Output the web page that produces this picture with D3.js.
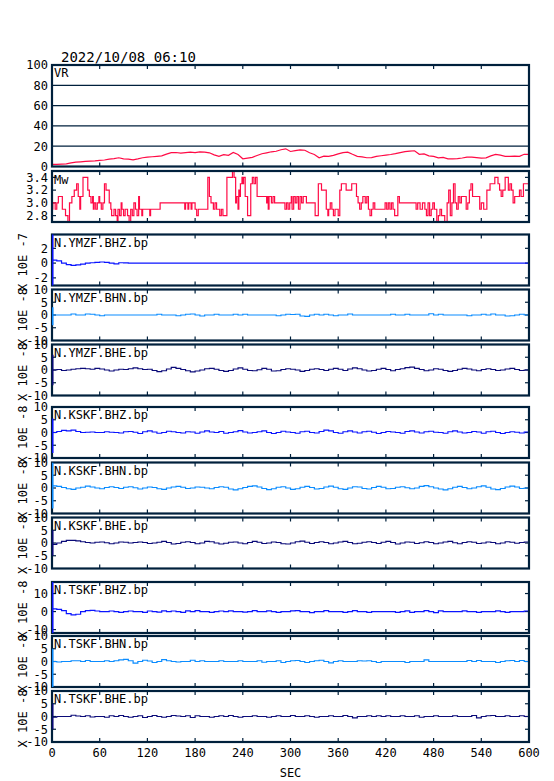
<!DOCTYPE html>
<html>
<head>
<meta charset="utf-8">
<script src="https://d3js.org/d3.v7.min.js"></script>
<style>
  body { margin: 0; background: #fff; }
  text { font-family: "DejaVu Sans Mono", "Liberation Mono", monospace; font-size: 12px; fill: #000; }
</style>
</head>
<body>
<div class="chart"></div>
<script>
(function() {

  // ---- data ----
  const titleText = '2022/10/08 06:10';
  const xTicks = [0, 60, 120, 180, 240, 300, 360, 420, 480, 540, 600];
  const xLabel = 'SEC';

  // variance reduction (%), one value every 6 s
  const vrValues = [2, 2, 2.3, 2.6, 3.5, 4.3, 4.6, 5, 5.3, 5.5, 6, 6.4, 7.3, 7.8, 8.6, 7.6, 7.2, 6.6, 7.5, 8.6,
    9.2, 9.6, 10, 10.5, 12.2, 13.6, 13.8, 13.2, 13.7, 14.2, 13.6, 14.4, 14.2, 13.5, 11.5, 10, 11.6, 11, 13.8, 11.8,
    7.6, 8.3, 9, 10.8, 12.6, 13.5, 14.5, 15, 16.5, 17.4, 14.8, 15.6, 16.4, 16, 13.5, 11.9, 8.6, 10.2, 10, 11,
    12.5, 13.6, 14.2, 12, 10, 9.5, 8.6, 8.8, 10, 10.6, 11.2, 11.8, 12.6, 13.6, 14.6, 15.2, 15.5, 12, 12.4, 10.5,
    10, 8.6, 9, 7.6, 7.6, 7.8, 8.4, 9.3, 9.3, 8.8, 8.3, 8.5, 10.5, 12, 11.2, 10, 10, 10.2, 10, 12, 12];
  const vrTicks = [0, 20, 40, 60, 80, 100];

  // moment magnitude, [time, value] at each change
  const mwSteps = [[0, 2.9], [1, 3.0], [4, 2.9], [6, 3.0], [8, 3.1], [13, 2.9], [17, 2.8], [20, 2.7], [22, 3.0],
    [25, 3.1], [28, 3.2], [31, 3.3], [33, 3.1], [35, 2.9], [36, 3.1], [39, 3.4], [45, 3.2], [47, 3.1], [49, 3.0],
    [51, 3.1], [52, 2.9], [53, 3.0], [55, 2.9], [57, 3.0], [59, 3.1], [60, 3.0], [62, 2.9], [64, 3.0], [66, 3.3],
    [68, 3.2], [72, 3.0], [74, 2.9], [75, 2.8], [78, 2.9], [80, 2.8], [82, 2.7], [83, 2.9], [85, 2.8], [87, 3.0],
    [88, 2.9], [90, 2.8], [92, 2.9], [95, 2.8], [97, 2.7], [99, 2.9], [101, 2.8], [103, 3.0], [105, 2.9], [107, 2.8],
    [109, 3.1], [110, 2.9], [113, 2.8], [114, 2.9], [123, 2.8], [124, 2.9], [136, 3.0], [167, 2.9], [168, 3.0],
    [171, 2.9], [172, 3.0], [175, 2.9], [176, 3.0], [180, 2.9], [182, 2.8], [184, 2.9], [196, 3.4], [198, 3.1],
    [200, 3.0], [203, 2.9], [205, 3.0], [207, 2.9], [211, 2.8], [213, 2.9], [215, 2.8], [220, 3.4], [227, 3.5],
    [229, 3.4], [231, 3.0], [232, 3.1], [234, 2.9], [235, 3.2], [236, 3.1], [237, 3.3], [239, 3.4], [240, 3.3],
    [241, 3.4], [243, 3.1], [246, 2.8], [250, 3.3], [252, 3.4], [254, 3.3], [256, 3.4], [258, 3.1], [270, 3.0],
    [271, 3.1], [272, 2.9], [273, 3.1], [276, 3.0], [278, 3.1], [280, 3.0], [293, 2.9], [295, 3.0], [297, 2.9],
    [299, 3.0], [301, 3.1], [302, 2.9], [304, 3.1], [306, 3.0], [308, 3.1], [310, 2.9], [312, 3.1], [314, 3.0],
    [316, 3.1], [320, 3.0], [331, 2.8], [335, 3.3], [339, 3.2], [345, 2.9], [347, 2.8], [348, 2.9], [350, 3.0],
    [352, 2.9], [354, 2.8], [356, 2.9], [360, 2.8], [362, 3.2], [364, 3.3], [370, 3.2], [377, 3.3], [383, 3.1],
    [385, 3.0], [387, 2.9], [389, 3.0], [391, 3.1], [394, 3.0], [396, 3.1], [398, 2.9], [400, 2.8], [402, 2.9],
    [404, 3.0], [406, 2.9], [419, 3.0], [421, 2.9], [423, 3.0], [425, 2.9], [427, 3.0], [429, 2.9], [431, 2.8],
    [435, 3.1], [437, 3.0], [458, 2.9], [460, 3.0], [463, 2.9], [466, 3.0], [469, 2.9], [471, 2.8], [473, 3.0],
    [475, 2.8], [477, 2.9], [479, 3.0], [481, 2.9], [484, 2.7], [486, 2.8], [488, 2.9], [490, 2.8], [494, 2.7],
    [497, 3.0], [499, 3.2], [501, 2.8], [503, 3.0], [505, 3.3], [507, 3.0], [509, 2.9], [511, 3.1], [513, 3.0],
    [515, 3.1], [521, 2.9], [523, 3.0], [525, 3.2], [527, 3.3], [529, 3.1], [538, 2.9], [540, 3.0], [543, 2.9],
    [547, 3.2], [551, 3.3], [557, 3.4], [561, 3.3], [563, 3.2], [565, 3.1], [567, 3.2], [570, 3.4], [574, 3.2],
    [576, 3.3], [578, 3.2], [580, 3.0], [582, 3.1], [588, 3.2], [590, 3.1], [593, 3.3], [600, 3.3]];
  const mwTicks = [2.8, 3.0, 3.2, 3.4];

  // band-passed waveforms, one value every 6 s
  const ymzfBHZ = [0.4, 0.3, 0.0, -0.2, -0.3, -0.25, -0.15, 0.0, 0.05, 0.1, 0.15, 0.1, 0.0, -0.1, 0.05, 0.03,
    0, 0, 0, 0, 0, 0, 0, 0, 0, 0, 0, 0, 0, 0, 0, 0, 0, 0, 0, 0, 0, 0, 0, 0, 0, 0, 0, 0, 0, 0, 0, 0, 0, 0,
    0, 0, 0, 0, 0, 0, 0, 0, 0, 0, 0, 0, 0, 0, 0, 0, 0, 0, 0, 0, 0, 0, 0, 0, 0, 0, 0, 0, 0, 0,
    0, 0, 0, 0, 0, 0, 0, 0, 0, 0, 0, 0, 0, 0, 0, 0, 0, 0, 0, 0, 0];
  const ymzfBHN = [0, 0, 0, 0, 0.4, 0, 0, 0.4, 0.3, 0, -0.3, 0, 0, 0, 0, 0, 0, 0, 0, 0, 0, 0, 0.3, 0, 0, 0,
    -0.3, 0, 0.3, 0.4, 0, -0.4, 0, 0, 0.3, 0, 0, 0, 0.3, 0, 0.3, 0, 0, 0, 0, 0, 0, -0.3, 0, 0.3, 0.2, 0.3,
    -0.4, -0.5, 0, 0.3, 0, 0.3, 0, -0.3, 0, 0, 0.4, 0, 0, 0, 0, 0, 0, 0, 0, 0.3, 0, 0, 0.3, 0, 0, 0, 0, 0.5,
    0, 0.3, 0, 0, 0, 0, 0, -0.3, 0, 0, 0.3, 0, 0.4, 0, 0, -0.4, -0.3, 0, 0.3, 0, 0];
  const ymzfBHE = [0, 0.2, -0.2, 0, 0.3, 0.5, 0.6, 0.5, 0.3, 0.6, 0.4, 0, -0.4, 0, 0.3, 0.2, 0.5, 0.8, 0.5, 0.2,
    0.3, -0.2, -0.6, -0.3, 0.4, 1.0, 0.6, 0.2, -0.3, -0.7, -0.4, 0, 0.5, 0.6, 0.3, -0.2, -0.5, -0.2, 0.4, 0.8,
    0.3, -0.2, -0.3, 0.1, 0.6, 0.3, -0.4, -0.3, 0.2, 0.5, 0.3, 0, -0.5, -0.2, 0.3, 0.5, 0.2, -0.2, 0.3, 0.6,
    0.3, -0.2, 0.4, 0.8, 0.5, 0, -0.4, -0.2, 0.3, 0.6, 0.2, -0.3, 0.2, 0.5, 0.9, 1.1, 0.6, 0.2, -0.3, 0,
    0.5, 0.3, -0.2, -0.5, -0.2, 0.3, 0.6, 0.4, 0, -0.3, 0.2, 0.5, 0.2, -0.2, 0, 0.4, 0.6, 0.2, -0.2, 0, 0.3];
  const kskfBHZ = [0, 0.4, 0.8, 0.6, 0.9, 0.4, 0, 0.1, 0.2, 0, 0, 0.3, 0.1, 0, -0.2, 0.3, 0.4, 0.1, -0.4, 0.3,
    0.6, 0.2, -0.3, 0, 0.5, 0.3, 0, -0.2, 0.3, 0.2, -0.3, 0.2, 0.6, 0.2, 0, 0.4, -0.3, 0, 0.3, 0.7, 0.2, -0.2,
    0, 0.3, 0.6, 0, -0.4, 0, 0.5, 0.2, 0, -0.3, 0.3, 0.5, 0, -0.2, 0.4, 0.9, 0.6, 0, -0.3, 0.3, 0.6, 0.2, -0.2,
    0.3, 0.5, 0.1, -0.4, 0, 0.4, 0.2, 0, -0.3, 0.4, 0.6, 0.2, -0.2, 0.3, 0.5, 0.1, 0, -0.3, 0.3, 0.6, 0.2,
    -0.2, 0, 0.4, 0.2, -0.3, 0.3, 0.5, 0, -0.4, 0, 0.3, 0.1, -0.2, 0.2, 0.2];
  const kskfBHN = [0.8, 0.6, 0.2, -0.3, -0.5, 0, 0.3, 0.7, 0.4, 0, -0.3, 0.2, 0.5, 0.2, -0.2, 0.3, 0.5, 0.1,
    -0.4, 0, 0.4, 0.2, -0.3, -0.5, 0, 0.4, 0.6, 0.3, -0.2, 0, 0.4, 0.3, 0, -0.3, 0.2, 0.5, 0.3, -0.4, -0.7,
    -0.3, 0.2, 0.6, 0.8, 0.4, -0.2, -0.6, -0.3, 0.3, 0.5, 0, -0.5, -0.3, 0.3, 0.6, 0.2, -0.4, -0.2, 0.4, 0.7,
    0.3, -0.3, -0.5, 0, 0.5, 0.4, -0.2, -0.4, 0.2, 0.6, 0.3, -0.3, -0.2, 0.3, 0.5, 0.1, -0.3, 0, 0.6, 0.9,
    0.5, 0, -0.4, -0.7, -0.3, 0.3, 0.6, 0.2, -0.3, 0, 0.5, 0.8, 0.3, -0.4, -0.6, -0.2, 0.4, 0.7, 0.4, -0.2, 0, 0.3];
  const kskfBHE = [-0.5, 0, 0.6, 1.0, 1.0, 0.8, 0.5, 0.2, 0, 0.3, 0.4, 0.1, -0.3, 0, 0.4, 0.3, 0, 0.2, 0.4, 0.2,
    -0.2, 0, 0.3, 0.6, 0.2, -0.4, -0.2, 0.3, 0.5, 0.2, -0.3, 0, 0.6, 0.5, 0, -0.4, -0.1, 0.3, 0.4, 0, -0.3,
    0.2, 0.6, 0.3, -0.2, 0, 0.4, 0.2, -0.3, -0.4, 0, 0.5, 0.7, 0.3, -0.2, 0.2, 0.5, 0.2, -0.3, 0, 0.4, 0.6,
    0.2, -0.3, -0.1, 0.3, 0.5, 0.2, -0.2, 0.3, 0.6, 0.2, -0.4, 0, 0.4, 0.3, -0.2, 0.1, 0.5, 0.2, -0.3, 0, 0.4,
    0.6, 0.1, -0.3, 0.2, 0.5, 0.3, -0.2, 0, 0.4, 0.2, -0.3, 0, 0.5, 0.3, -0.1, 0.2, 0.4, 0.3];
  const tskfBHZ = [1.5, 1.2, 0.5, -1.2, -1.8, -1.5, 0, 0.5, 0.6, 0.3, 0, 0, 0.3, 0, -0.4, 0, 0.3, 0, 0, -0.4,
    0.3, 0, -0.3, 0.4, 0, 0.3, 0, -0.5, 0.4, 0, 0.5, 0, 0, -0.5, 0, 0.3, 0, 0.4, 0, 0, -0.3, 0, 0.5, 0, 0, 0.4,
    0, -0.5, 0, 0, 0.4, 0.5, 0, 0, -0.6, 0, 0, 0.5, 0, 0, 0, -0.5, 0, 0.5, 0, 0, -0.5, 0, 0, 0, 0, 0, -0.5, 0,
    0.4, -0.4, 0, 0, 0.5, 0, -0.6, 0.4, 0, 0, 0, 0, 0.4, 0, 0, -0.5, 0, 0, 0, 0.4, 0, -0.5, 0, 0, 0, 0.3, 0];
  const tskfBHN = [0, -0.2, 0, 0, 0.3, 0.3, 0, 0.4, 0, 0, 0, 0.3, 0, 0.3, 0.6, 0.8, 0.3, -0.6, 0, 0.5, 0.2, -0.4,
    0, 0.7, 0.3, 0, -0.2, 0, 0, 0.5, 0, 0.3, 0, 0, 0, 0.3, 0, 0, 0, 0.3, 0, 0, 0, 0.3, -0.3, 0, 0, 0.3, -0.4, 0,
    0.3, 0.4, 0, -0.4, 0, 0.3, 0.5, 0, -0.5, 0, 0.3, 0, 0, 0, 0.3, 0.2, 0.3, 0, -0.4, 0, 0, 0, 0, 0, -0.4, 0,
    0, 0, 0.6, 0, 0, 0, 0, 0, 0, 0, 0, 0.4, 0, 0.4, 0, 0, 0, -0.4, 0, 0.3, 0.4, 0, 0.4, 0, 0];
  const tskfBHE = [-0.3, 0, 0, 0, 0.5, 0.2, 0, 0.3, -0.2, 0, 0, -0.3, 0.3, 0, 0.4, 0, -0.3, 0, 0.3, -0.4, 0, 0.4,
    0, -0.3, 0, 0.4, 0.2, 0, 0.3, -0.4, 0.3, 0, 0, -0.3, 0, 0.3, 0, 0.4, 0, -0.3, 0, 0, 0.3, 0, 0, -0.3, 0, 0.3,
    0, 0, 0.4, 0, 0, 0.3, 0, -0.3, 0, 0, 0.3, 0, 0, 0.4, 0, -0.5, 0, 0, 0.3, 0, 0.3, 0, 0.3, 0, 0, 0.3, 0, 0,
    0.3, -0.3, 0, 0, 0.3, 0, 0, 0, 0.3, 0, 0, 0, 0.4, -0.5, 0, 0.3, 0.4, 0, 0, 0.3, 0, 0, 0.3, 0, 0];

  const traceNames = ['N.YMZF.BHZ.bp', 'N.YMZF.BHN.bp', 'N.YMZF.BHE.bp',
    'N.KSKF.BHZ.bp', 'N.KSKF.BHN.bp', 'N.KSKF.BHE.bp',
    'N.TSKF.BHZ.bp', 'N.TSKF.BHN.bp', 'N.TSKF.BHE.bp'];
  const traceUnits = ['X 10E -7', 'X 10E -8', 'X 10E -8', 'X 10E -8', 'X 10E -8', 'X 10E -8',
    'X 10E -8', 'X 10E -8', 'X 10E -8'];
  const traceDomains = [[-3.03, 3.87], [-10, 10], [-10, 10], [-10, 10], [-10, 10], [-10, 10],
    [-11.9, 16.4], [-10, 10], [-10, 10]];
  const traceTicks = [[-2, 0, 2], [-10, -5, 0, 5, 10], [-10, -5, 0, 5, 10], [-10, -5, 0, 5, 10],
    [-10, -5, 0, 5, 10], [-10, -5, 0, 5, 10], [-10, 0, 10], [-10, -5, 0, 5, 10], [-10, -5, 0, 5, 10]];
  // first-sample swing at t = 0 (top, bottom)
  const onsetKicks = [[5, -4], [3, -4], [6, -6], [5.5, -8], [10, -8], [5, -5], [17, -12], [5, -10], [5, -5]];
  const traceValues = [ymzfBHZ, ymzfBHN, ymzfBHE, kskfBHZ, kskfBHN, kskfBHE, tskfBHZ, tskfBHN, tskfBHE];

  // ---- layout / styles ----
  const frameColor = '#00203c';
  const vrColor = '#ff0a45';
  const compColors = ['#0a14ff', '#0a8cff', '#0a0a78'];
  const left = 52, right = 529;
  const tickLen = 4;
  const vrBox = { top: 65, bottom: 166.5 };
  const mwBox = { top: 171, bottom: 222 };
  const traceTops = [234.5, 289.5, 344.5, 407, 462.5, 517.5, 582, 636, 691];
  const traceHeight = 51;

  const svg = d3.select('.chart').append('svg')
    .attr('width', 554)
    .attr('height', 781);

  const x = d3.scaleLinear().domain([0, 600]).range([left, right]);
  const innerTicks = xTicks.filter((t) => t > 0 && t < 600);

  svg.append('text')
    .attr('x', 61)
    .attr('y', 62)
    .style('font-size', '14px')
    .attr('xml:space', 'preserve')
    .text(titleText);

  let clipId = 0;
  // frame, inward ticks and y labels for one panel
  function drawPanel(top, bottom, y, yTicks, fmt, grid) {
    let g = svg.append('g');
    let id = 'clip' + (clipId++);
    svg.append('clipPath').attr('id', id)
      .append('rect')
        .attr('x', left).attr('y', top)
        .attr('width', right - left).attr('height', bottom - top);

    let ticksG = g.append('g')
      .attr('stroke', frameColor)
      .attr('stroke-width', 1.2);
    innerTicks.forEach((t) => {
      ticksG.append('line')
        .attr('x1', x(t)).attr('x2', x(t))
        .attr('y1', top).attr('y2', top + tickLen);
      ticksG.append('line')
        .attr('x1', x(t)).attr('x2', x(t))
        .attr('y1', bottom).attr('y2', bottom - tickLen);
    });
    yTicks.forEach((v) => {
      let yy = y(v);
      if (yy > top + 1 && yy < bottom - 1) {
        if (grid) {
          ticksG.append('line')
            .attr('x1', left).attr('x2', right)
            .attr('y1', yy).attr('y2', yy);
        } else {
          ticksG.append('line')
            .attr('x1', left).attr('x2', left + tickLen)
            .attr('y1', yy).attr('y2', yy);
          ticksG.append('line')
            .attr('x1', right).attr('x2', right - tickLen)
            .attr('y1', yy).attr('y2', yy);
        }
      }
      svg.append('text')
        .attr('x', 48)
        .attr('y', yy)
        .attr('dy', '0.36em')
        .attr('text-anchor', 'end')
        .text(fmt(v));
    });
    return { g: g, clip: 'url(#' + id + ')' };
  }

  function drawFrame(top, bottom) {
    svg.append('rect')
      .attr('x', left).attr('y', top)
      .attr('width', right - left).attr('height', bottom - top)
      .attr('fill', 'none')
      .attr('stroke', frameColor)
      .attr('stroke-width', 2.2);
  }

  // VR panel
  let yVR = d3.scaleLinear().domain([0, 100]).range([vrBox.bottom, vrBox.top]);
  let vrPanel = drawPanel(vrBox.top, vrBox.bottom, yVR, vrTicks, (d) => d, true);
  let vrLine = d3.line()
    .x((d, i) => x(i * 600 / (vrValues.length - 1)))
    .y((d) => yVR(d));
  vrPanel.g.append('path')
    .attr('clip-path', vrPanel.clip)
    .attr('d', vrLine(vrValues))
    .attr('fill', 'none')
    .attr('stroke', vrColor)
    .attr('stroke-width', 1.2);
  drawFrame(vrBox.top, vrBox.bottom);
  svg.append('text').attr('x', 54).attr('y', 77).text('VR');

  // Mw panel
  let yMw = d3.scaleLinear().domain([2.7, 3.5]).range([mwBox.bottom, mwBox.top]);
  let mwPanel = drawPanel(mwBox.top, mwBox.bottom, yMw, mwTicks, d3.format('.1f'), false);
  let mwLine = d3.line()
    .x((d) => x(d[0]))
    .y((d) => yMw(d[1]))
    .curve(d3.curveStepAfter);
  mwPanel.g.append('path')
    .attr('clip-path', mwPanel.clip)
    .attr('d', mwLine(mwSteps))
    .attr('fill', 'none')
    .attr('stroke', vrColor)
    .attr('stroke-width', 1.2);
  drawFrame(mwBox.top, mwBox.bottom);
  svg.append('text').attr('x', 54).attr('y', 184).text('Mw');

  // waveform panels
  traceValues.forEach((vals, k) => {
    let top = traceTops[k];
    let bottom = top + traceHeight;
    let color = compColors[k % 3];
    let y = d3.scaleLinear().domain(traceDomains[k]).range([bottom, top]);
    let p = drawPanel(top, bottom, y, traceTicks[k], (d) => d, false);
    let line = d3.line()
      .x((d, i) => x(i * 600 / (vals.length - 1)))
      .y((d) => y(d))
      .curve(d3.curveStepAfter);
    p.g.append('path')
      .attr('clip-path', p.clip)
      .attr('d', line(vals))
      .attr('fill', 'none')
      .attr('stroke', color)
      .attr('stroke-width', 1.2);
    drawFrame(top, bottom);
    svg.append('line')
      .attr('clip-path', p.clip)
      .attr('x1', x(0) + 0.5).attr('x2', x(0) + 0.5)
      .attr('y1', y(onsetKicks[k][0])).attr('y2', y(onsetKicks[k][1]))
      .attr('stroke', color)
      .attr('stroke-width', 2);
    svg.append('text')
      .attr('x', 54)
      .attr('y', top + 12)
      .text(traceNames[k]);
    svg.append('text')
      .attr('transform', 'translate(27,' + (top + traceHeight / 2 + 2) + ')rotate(-90)')
      .attr('text-anchor', 'middle')
      .attr('xml:space', 'preserve')
      .text(traceUnits[k]);
  });

  // x tick labels under the last panel
  let lastBottom = traceTops[traceTops.length - 1] + traceHeight;
  svg.selectAll('.xlab')
    .data(xTicks)
    .enter()
    .append('text')
      .attr('class', 'xlab')
      .attr('x', (d) => x(d))
      .attr('y', lastBottom + 15)
      .attr('text-anchor', 'middle')
      .text((d) => d);

  svg.append('text')
    .attr('x', (left + right) / 2)
    .attr('y', 777)
    .attr('text-anchor', 'middle')
    .text(xLabel);

})();
</script>
</body>
</html>
